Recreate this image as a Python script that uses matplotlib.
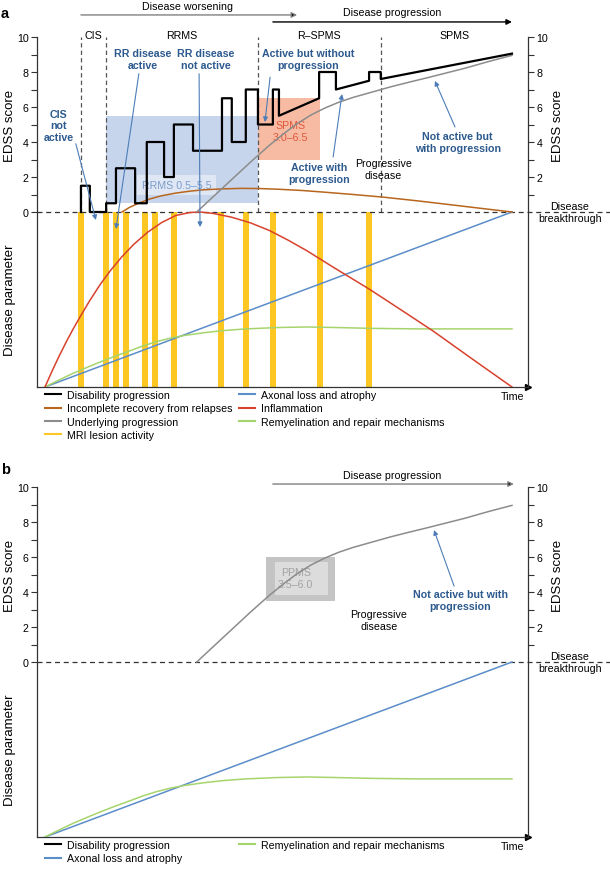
import matplotlib.pyplot as plt
from matplotlib.lines import Line2D
from matplotlib.legend import Legend
from matplotlib.patches import Rectangle

plt.rcParams['font.family'] = ['Liberation Sans', 'DejaVu Sans']
plt.rcParams['font.size'] = 7.7

# ------------------------------------------------------------
# data (time axis: 0 = onset, 100 = end of the schematic)
# upper half = EDSS score 0..10, lower half = disease parameter -10..0
# ------------------------------------------------------------
disability_t = [7.7, 7.7, 9.6, 9.6, 13.1, 13.1, 15.2, 15.2, 19.3, 19.3,
                21.8, 21.8, 25.5, 25.5, 27.6, 27.6, 31.7, 31.7, 37.9, 37.9,
                40.0, 40.0, 43.0, 43.0, 45.6, 45.6, 48.8, 48.8, 50.1, 50.1,
                58.7, 58.7, 62.3, 62.3, 69.4, 69.4, 71.9, 71.9, 100]
disability_edss = [0, 1.5, 1.5, 0, 0, 0.5, 0.5, 2.5, 2.5, 0.5,
                   0.5, 4, 4, 2, 2, 5, 5, 3.5, 3.5, 6.5,
                   6.5, 4, 4, 7, 7, 5, 5, 7, 7, 5.5,
                   6.5, 8, 8, 7, 7.5, 8, 8, 7.6, 9.05]

recovery_t = [16.5, 18, 20, 22.5, 25, 28, 31, 34, 38, 42, 46, 50, 55, 60,
              66, 72.4, 80, 86.7, 93, 100]
recovery_edss = [0, 0.25, 0.5, 0.75, 0.93, 1.08, 1.19, 1.27, 1.32, 1.35,
                 1.34, 1.3, 1.23, 1.13, 1.0, 0.85, 0.63, 0.42, 0.22, 0]

underlying_t = [32.5, 36, 40, 44, 48, 51, 54, 57, 60, 63, 66, 70, 74, 78,
                82, 86, 90, 95, 100]
underlying_edss = [0, 0.87, 1.86, 2.85, 3.8, 4.45, 5.05, 5.55, 5.95, 6.28,
                   6.55, 6.85, 7.15, 7.42, 7.68, 7.95, 8.22, 8.6, 8.95]

mri_t = [7.7, 13.1, 15.2, 17.3, 21.4, 23.6, 27.6, 37.7, 43.0, 48.8, 58.9, 69.4]

axonal_t = [0, 100]
axonal_val = [-10, 0]

inflam_t = [0, 1.5, 3, 4.5, 6, 7.5, 9.5, 11.8, 14, 16.5, 19, 22, 25, 28, 31,
            33.2, 36, 40, 44, 48, 52, 56, 62, 69.4, 76, 83.1, 91.5, 100]
inflam_val = [-10, -9.1, -8.25, -7.45, -6.7, -6.0, -5.1, -4.15, -3.35, -2.55,
              -1.85, -1.15, -0.6, -0.2, -0.03, 0, -0.08, -0.3, -0.62, -1.05,
              -1.6, -2.2, -3.2, -4.4, -5.55, -6.8, -8.4, -10]

remyel_t = [0, 3, 6, 9, 12, 15, 18, 21, 24, 27, 30, 34, 38, 43, 50, 56, 62,
            70, 80, 100]
remyel_val = [-10, -9.6, -9.22, -8.88, -8.55, -8.24, -7.95, -7.65, -7.4,
              -7.2, -7.05, -6.9, -6.78, -6.68, -6.6, -6.57, -6.6, -6.65,
              -6.68, -6.68]

phase_bounds = [7.7, 13.1, 45.6, 71.9]
phase_names = ['CIS', 'RRMS', 'R–SPMS', 'SPMS']
rrms_t, rrms_range = (13.1, 45.6), (0.5, 5.5)
spms_t, spms_range = (45.6, 58.9), (3.0, 6.5)
ppms_t, ppms_range = (47.3, 62.1), (3.5, 6.0)

C_BROWN = '#b8661e'
C_GRAY = '#8c8c8c'
C_YELLOW = '#fcc623'
C_BLUE = '#5b8dc8'
C_RED = '#d8412c'
C_GREEN = '#a6d46c'
C_NOTE = '#2d5a8e'
C_ARROW = '#4d7db8'
XMIN, XMAX = -1.71, 103.43


def setup(ax):
    ax.set_xlim(XMIN, XMAX)
    ax.set_ylim(-10, 10)
    ax.set_xticks([])
    ax.set_yticks([0, 2, 4, 6, 8, 10])
    ax.set_yticks([1, 3, 5, 7, 9], minor=True)
    ax.tick_params(axis='y', which='both', length=4, width=0.8, pad=2,
                   color='#333333')
    for s in ['top', 'right']:
        ax.spines[s].set_visible(False)
    for s in ['left', 'bottom']:
        ax.spines[s].set_color('#333333')
        ax.spines[s].set_linewidth(0.9)
    ax.plot(1.0, 0, '>', color='black', ms=4, transform=ax.transAxes,
            clip_on=False)

    ax2 = ax.twinx()
    ax2.set_ylim(-10, 10)
    ax2.set_yticks([2, 4, 6, 8, 10])
    ax2.set_yticks([1, 3, 5, 7, 9], minor=True)
    ax2.tick_params(axis='y', which='both', length=4, width=0.8, pad=2,
                    color='#333333')
    for s in ['top', 'left', 'bottom']:
        ax2.spines[s].set_visible(False)
    ax2.spines['right'].set_color('#333333')
    ax2.spines['right'].set_linewidth(0.9)

    # disease breakthrough threshold
    ax.plot([XMIN, 121], [0, 0], ls=(0, (4, 3)), color='#333333', lw=0.9,
            clip_on=False, zorder=2.5)
    ax.text(112.4, 0, 'Disease\nbreakthrough', ha='center', va='center',
            clip_on=False)
    ax.text(100.2, -10.5, 'Time', ha='center', va='center', clip_on=False)
    ax.text(-7.5, 5, 'EDSS score', rotation=90, ha='center', va='center',
            fontsize=9.5)
    ax.text(-7.5, -5, 'Disease parameter', rotation=90, ha='center',
            va='center', fontsize=9.5)
    ax.text(109.9, 5, 'EDSS score', rotation=90, ha='center', va='center',
            fontsize=9.5)


def note(ax, text, xy_text, start, end):
    ax.text(*xy_text, text, ha='center', va='center', color=C_NOTE,
            fontweight='bold', zorder=6)
    ax.annotate('', xy=end, xytext=start,
                arrowprops=dict(arrowstyle='-|>', color=C_ARROW, lw=0.8,
                                mutation_scale=7, shrinkA=0, shrinkB=0),
                zorder=6)


def top_arrow(ax, x0, x1, y, shaft):
    ax.annotate('', xy=(x1, y), xytext=(x0, y), annotation_clip=False,
                arrowprops=dict(arrowstyle='-|>', ec=shaft, fc='black',
                                lw=1.0, mutation_scale=8, shrinkA=0,
                                shrinkB=0))


def key(ax, entries, x):
    handles = [Line2D([], [], color=c, lw=1.5) for c, _ in entries]
    labels = [lab for _, lab in entries]
    leg = Legend(ax, handles, labels, loc='upper left',
                 bbox_to_anchor=(x, -0.009), frameon=False,
                 handlelength=1.45, handletextpad=0.6, labelspacing=0.3,
                 borderpad=0, borderaxespad=0, fontsize=7.7)
    ax.add_artist(leg)


fig = plt.figure(figsize=(6.1, 8.7), dpi=100)
ax_a = fig.add_axes([37 / 610, 1 - 388 / 870, 491 / 610, 350 / 870])
ax_b = fig.add_axes([37 / 610, 1 - 838 / 870, 491 / 610, 350 / 870])

# ---------------- panel a ----------------
ax = ax_a
setup(ax)
ax.text(-8.6, 11.37, 'a', fontsize=10.5, fontweight='bold', ha='center',
        va='center')

ax.add_patch(Rectangle((rrms_t[0], rrms_range[0]), rrms_t[1] - rrms_t[0],
                       rrms_range[1] - rrms_range[0], fc='#c6d5ec', ec='none',
                       zorder=1))
ax.text(28.2, 1.55, f'RRMS {rrms_range[0]}–{rrms_range[1]}', color='#7c9dcb',
        ha='center', va='center', zorder=1.5,
        bbox=dict(boxstyle='square,pad=0.45', fc='white', ec='none',
                  alpha=0.45))
ax.add_patch(Rectangle((spms_t[0], spms_range[0]), spms_t[1] - spms_t[0],
                       spms_range[1] - spms_range[0], fc='#f7bba3', ec='none',
                       zorder=1))
ax.text(52.6, 4.63, f'SPMS\n{spms_range[0]}–{spms_range[1]}', color='#e0573c',
        ha='center', va='center', zorder=1.5)

ax.vlines(phase_bounds, 0, 10, colors='#555555', linestyles=(0, (3.5, 2.5)),
          lw=0.9, zorder=1.2)
edges = phase_bounds + [XMAX]
for name, l, r in zip(phase_names, edges[:-1], edges[1:]):
    ax.text((l + r) / 2, 10.1, name, ha='center', va='center', clip_on=False)

ax.bar(mri_t, -10, bottom=0, width=1.3, color=C_YELLOW, zorder=2)
ax.plot(axonal_t, axonal_val, color=C_BLUE, lw=1.1, zorder=3)
ax.plot(remyel_t, remyel_val, color=C_GREEN, lw=1.1, zorder=3)
ax.plot(inflam_t, inflam_val, color=C_RED, lw=1.1, zorder=3)
ax.plot(recovery_t, recovery_edss, color=C_BROWN, lw=1.1, zorder=3)
ax.plot(underlying_t, underlying_edss, color=C_GRAY, lw=1.1, zorder=3)
ax.plot(disability_t, disability_edss, color='black', lw=1.6, zorder=4)

ax.text(30.6, 11.77, 'Disease worsening', ha='center', va='center',
        clip_on=False)
top_arrow(ax, 7.7, 54.0, 11.26, '#808080')
ax.text(74.3, 11.43, 'Disease progression', ha='center', va='center',
        clip_on=False)
top_arrow(ax, 48.8, 100, 10.86, 'black')

note(ax, 'CIS\nnot\nactive', (3.0, 4.95), (6.6, 3.9), (10.9, -0.46))
note(ax, 'RR disease\nactive', (21.0, 8.74), (20.1, 7.9), (15.2, -0.97))
note(ax, 'RR disease\nnot active', (34.5, 8.74), (33.0, 7.9), (33.2, -0.86))
note(ax, 'Active but without\nprogression', (56.3, 8.74), (48.2, 7.7),
     (47.1, 5.14))
note(ax, 'Active with\nprogression', (58.7, 2.23), (61.7, 3.14), (63.6, 6.74))
note(ax, 'Not active but\nwith progression', (88.4, 4.0), (87.8, 4.86),
     (83.5, 7.49))
ax.text(72.4, 2.46, 'Progressive\ndisease', ha='center', va='center')

key(ax, [('black', 'Disability progression'),
         (C_BROWN, 'Incomplete recovery from relapses'),
         (C_GRAY, 'Underlying progression'),
         (C_YELLOW, 'MRI lesion activity')], 8 / 491)
key(ax, [(C_BLUE, 'Axonal loss and atrophy'),
         (C_RED, 'Inflammation'),
         (C_GREEN, 'Remyelination and repair mechanisms')], 202 / 491)

# ---------------- panel b ----------------
ax = ax_b
setup(ax)
ax.text(-8.4, 11.03, 'b', fontsize=10.5, fontweight='bold', ha='center',
        va='center')

ax.add_patch(Rectangle((ppms_t[0], ppms_range[0]), ppms_t[1] - ppms_t[0],
                       ppms_range[1] - ppms_range[0], fc='#c4c4c4', ec='none',
                       zorder=1))
ax.add_patch(Rectangle((49.3, 3.83), 11.3, 1.87, fc='#dcdcdc', ec='none',
                       zorder=1.2))
ax.text(53.7, 4.8, f'PPMS\n{ppms_range[0]}–{ppms_range[1]}', color='#a3a3a3',
        ha='center', va='center', zorder=1.5)

ax.plot(axonal_t, axonal_val, color=C_BLUE, lw=1.1, zorder=3)
ax.plot(remyel_t, remyel_val, color=C_GREEN, lw=1.1, zorder=3)
ax.plot(underlying_t, underlying_edss, color=C_GRAY, lw=1.1, zorder=3)

ax.text(74.3, 10.69, 'Disease progression', ha='center', va='center',
        clip_on=False)
top_arrow(ax, 48.8, 100.4, 10.17, '#808080')

note(ax, 'Not active but with\nprogression', (88.9, 3.54), (87.6, 4.34),
     (83.3, 7.54))
ax.text(71.5, 2.4, 'Progressive\ndisease', ha='center', va='center')

key(ax, [('black', 'Disability progression'),
         (C_BLUE, 'Axonal loss and atrophy')], 8 / 491)
key(ax, [(C_GREEN, 'Remyelination and repair mechanisms')], 202 / 491)

fig.savefig('out.png', dpi=100)
